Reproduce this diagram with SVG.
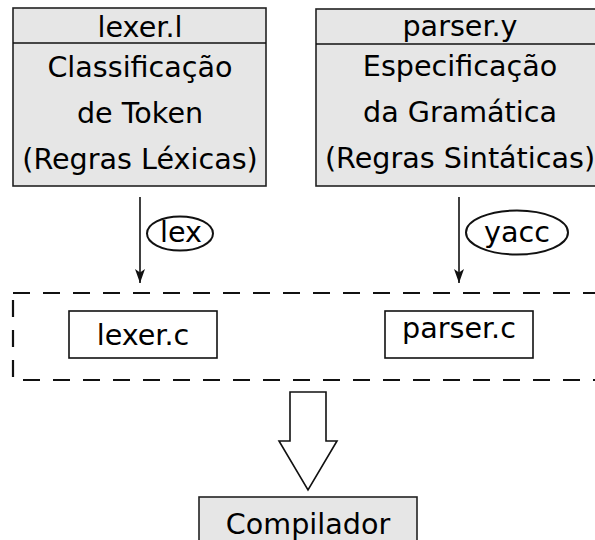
<svg xmlns="http://www.w3.org/2000/svg" width="595" height="540" viewBox="0 0 595 540">
  <style>
    .box { fill: #e6e6e6; stroke: #222; stroke-width: 1.6; }
    .plain { fill: #fff; stroke: #111; stroke-width: 1.6; }
    .oval { fill: #fff; stroke: #111; stroke-width: 2; }
    .label { font-family: "DejaVu Sans", sans-serif; font-size: 28.6px; fill: #000; text-anchor: middle; }
    .wire { stroke: #111; stroke-width: 1.6; fill: none; }
    .dashed { stroke: #111; stroke-width: 2.2; fill: none; stroke-dasharray: 17 13; }
  </style>
  <defs>
    <marker id="head" viewBox="0 0 14 10" refX="14" refY="5" markerWidth="14" markerHeight="10" markerUnits="userSpaceOnUse" orient="auto">
      <path d="M0,0 L14,5 L0,10 L3.5,5 Z" fill="#111"/>
    </marker>
  </defs>

  <!-- lexer specification -->
  <g id="lexer-l">
    <rect class="box" x="13" y="8" width="253" height="178"/>
    <line class="wire" x1="13" y1="43" x2="266" y2="43"/>
    <text class="label" x="140" y="37">lexer.l</text>
    <text class="label" x="140" y="77">Classificação</text>
    <text class="label" x="140" y="123">de Token</text>
    <text class="label" x="140" y="169">(Regras Léxicas)</text>
  </g>

  <!-- parser specification -->
  <g id="parser-y">
    <rect class="box" x="316" y="9" width="288" height="177"/>
    <line class="wire" x1="316" y1="44" x2="604" y2="44"/>
    <text class="label" x="460" y="36">parser.y</text>
    <text class="label" x="460" y="76">Especificação</text>
    <text class="label" x="460" y="122">da Gramática</text>
    <text class="label" x="460" y="168">(Regras Sintáticas)</text>
  </g>

  <!-- generated sources -->
  <g id="generated">
    <rect class="dashed" x="13" y="293" width="600" height="87"/>
  </g>
  <g id="lexer-c">
    <rect class="plain" x="69" y="311" width="148" height="47"/>
    <text class="label" x="143" y="345">lexer.c</text>
  </g>
  <g id="parser-c">
    <rect class="plain" x="385" y="311" width="148" height="47"/>
    <text class="label" x="459" y="338">parser.c</text>
  </g>

  <!-- final product -->
  <g id="compilador">
    <rect class="box" x="199" y="497" width="218" height="60"/>
    <text class="label" x="308" y="534">Compilador</text>
  </g>

  <!-- connectors -->
  <g id="connectors">
    <line class="wire" x1="140" y1="197" x2="140" y2="283" marker-end="url(#head)"/>
    <ellipse class="oval" cx="180" cy="233.5" rx="33" ry="17"/>
    <text class="label" x="181" y="242">lex</text>

    <line class="wire" x1="459" y1="197" x2="459" y2="283" marker-end="url(#head)"/>
    <ellipse class="oval" cx="517" cy="232.5" rx="51" ry="22"/>
    <text class="label" x="517" y="242">yacc</text>

    <path class="plain" d="M290,392 L326,392 L326,441 L337,441 L308,490 L279,441 L290,441 Z"/>
  </g>
</svg>
